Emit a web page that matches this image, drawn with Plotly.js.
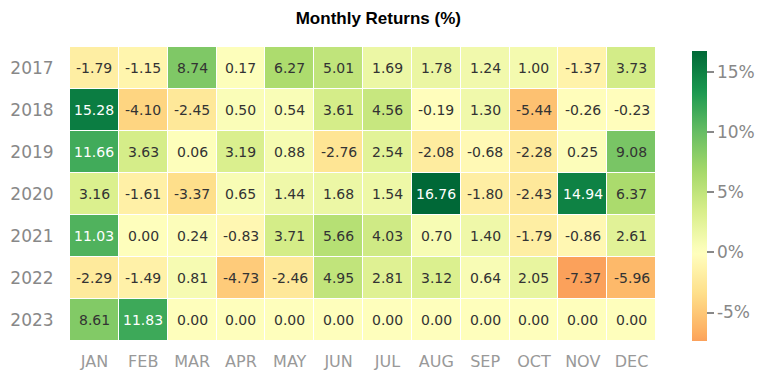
<!DOCTYPE html>
<html><head><meta charset="utf-8">
<script src="https://cdn.plot.ly/plotly-3.0.1.min.js"></script>
<style>body{margin:0;background:#fff}#chart{width:769px;height:380px}</style>
</head><body><div id="chart"></div>
<script>
const months = ["JAN","FEB","MAR","APR","MAY","JUN","JUL","AUG","SEP","OCT","NOV","DEC"];
const years = ["2017","2018","2019","2020","2021","2022","2023"];
const r2017 = [-1.79,-1.15,8.74,0.17,6.27,5.01,1.69,1.78,1.24,1.00,-1.37,3.73];
const r2018 = [15.28,-4.10,-2.45,0.50,0.54,3.61,4.56,-0.19,1.30,-5.44,-0.26,-0.23];
const r2019 = [11.66,3.63,0.06,3.19,0.88,-2.76,2.54,-2.08,-0.68,-2.28,0.25,9.08];
const r2020 = [3.16,-1.61,-3.37,0.65,1.44,1.68,1.54,16.76,-1.80,-2.43,14.94,6.37];
const r2021 = [11.03,0.00,0.24,-0.83,3.71,5.66,4.03,0.70,1.40,-1.79,-0.86,2.61];
const r2022 = [-2.29,-1.49,0.81,-4.73,-2.46,4.95,2.81,3.12,0.64,2.05,-7.37,-5.96];
const r2023 = [8.61,11.83,0.00,0.00,0.00,0.00,0.00,0.00,0.00,0.00,0.00,0.00];
const z = [r2017,r2018,r2019,r2020,r2021,r2022,r2023];
const cbTickVals = [-5,0,5,10,15];
const cbTickText = ["-5%","0%","5%","10%","15%"];

// RdYlGn colormap, centred on zero over +-max|z|, truncated to the data range
const rdylgn = ["#a50026","#d73027","#f46d43","#fdae61","#fee08b","#ffffbf","#d9ef8b","#a6d96a","#66bd63","#1a9850","#006837"];
function hex(c){return [parseInt(c.slice(1,3),16),parseInt(c.slice(3,5),16),parseInt(c.slice(5,7),16)];}
function cmap(t){
  t=Math.max(0,Math.min(1,t));
  const p=t*10, i=Math.min(9,Math.floor(p)), f=p-i;
  const a=hex(rdylgn[i]), b=hex(rdylgn[i+1]);
  return 'rgb('+a.map((v,k)=>Math.round(v+(b[k]-v)*f)).join(',')+')';
}
const flat = [].concat(...z);
const zmin = Math.min(...flat), zmax = Math.max(...flat);
const M = Math.max(Math.abs(zmin), Math.abs(zmax));
const scale = [];
for(let i=0;i<=40;i++){
  const s=i/40, v=zmin+(zmax-zmin)*s;
  scale.push([s, cmap((v+M)/(2*M))]);
}

const annotations = [];
z.forEach((row,yi)=>row.forEach((v,xi)=>{
  annotations.push({x:xi, y:yi, xref:'x', yref:'y', text:v.toFixed(2), showarrow:false,
    font:{family:'DejaVu Sans, sans-serif', size:14, color: v>10 ? '#ffffff' : '#333333'}});
}));

const trace = {
  type:'heatmap', z:z, zmin:zmin, zmax:zmax,
  colorscale:scale, xgap:1, ygap:1, hoverinfo:'skip',
  colorbar:{x:1.0614, xanchor:'left', y:0, yanchor:'bottom', len:0.986, lenmode:'fraction',
    xpad:0, ypad:0, thickness:15, outlinewidth:0, ticks:'outside', ticklen:7, tickwidth:2, tickcolor:'#888',
    tickmode:'array', tickvals:cbTickVals, ticktext:cbTickText,
    tickfont:{family:'DejaVu Sans, sans-serif', size:17, color:'#888'}}
};

const layout = {
  width:769, height:380, margin:{l:70, r:113, t:47, b:39, autoexpand:false},
  paper_bgcolor:'#fff', plot_bgcolor:'#fff',
  title:{text:'<b>Monthly Returns (%)</b>', x:0.492, xanchor:'center', y:0.952, yanchor:'middle',
    font:{family:'Liberation Sans, Arial, sans-serif', size:17, color:'#000'}},
  xaxis:{tickmode:'array', tickvals:months.map((m,i)=>i), ticktext:months, showgrid:false, zeroline:false,
    ticks:'outside', ticklen:6, tickcolor:'rgba(0,0,0,0)',
    tickfont:{family:'DejaVu Sans, sans-serif', size:16, color:'#999'}},
  yaxis:{tickmode:'array', tickvals:years.map((m,i)=>i), ticktext:years, autorange:'reversed', showgrid:false, zeroline:false,
    ticks:'outside', ticklen:12, tickcolor:'rgba(0,0,0,0)',
    tickfont:{family:'DejaVu Sans, sans-serif', size:17, color:'#888'}},
  annotations:annotations
};
Plotly.newPlot('chart',[trace],layout,{displayModeBar:false,staticPlot:true});
</script></body></html>
